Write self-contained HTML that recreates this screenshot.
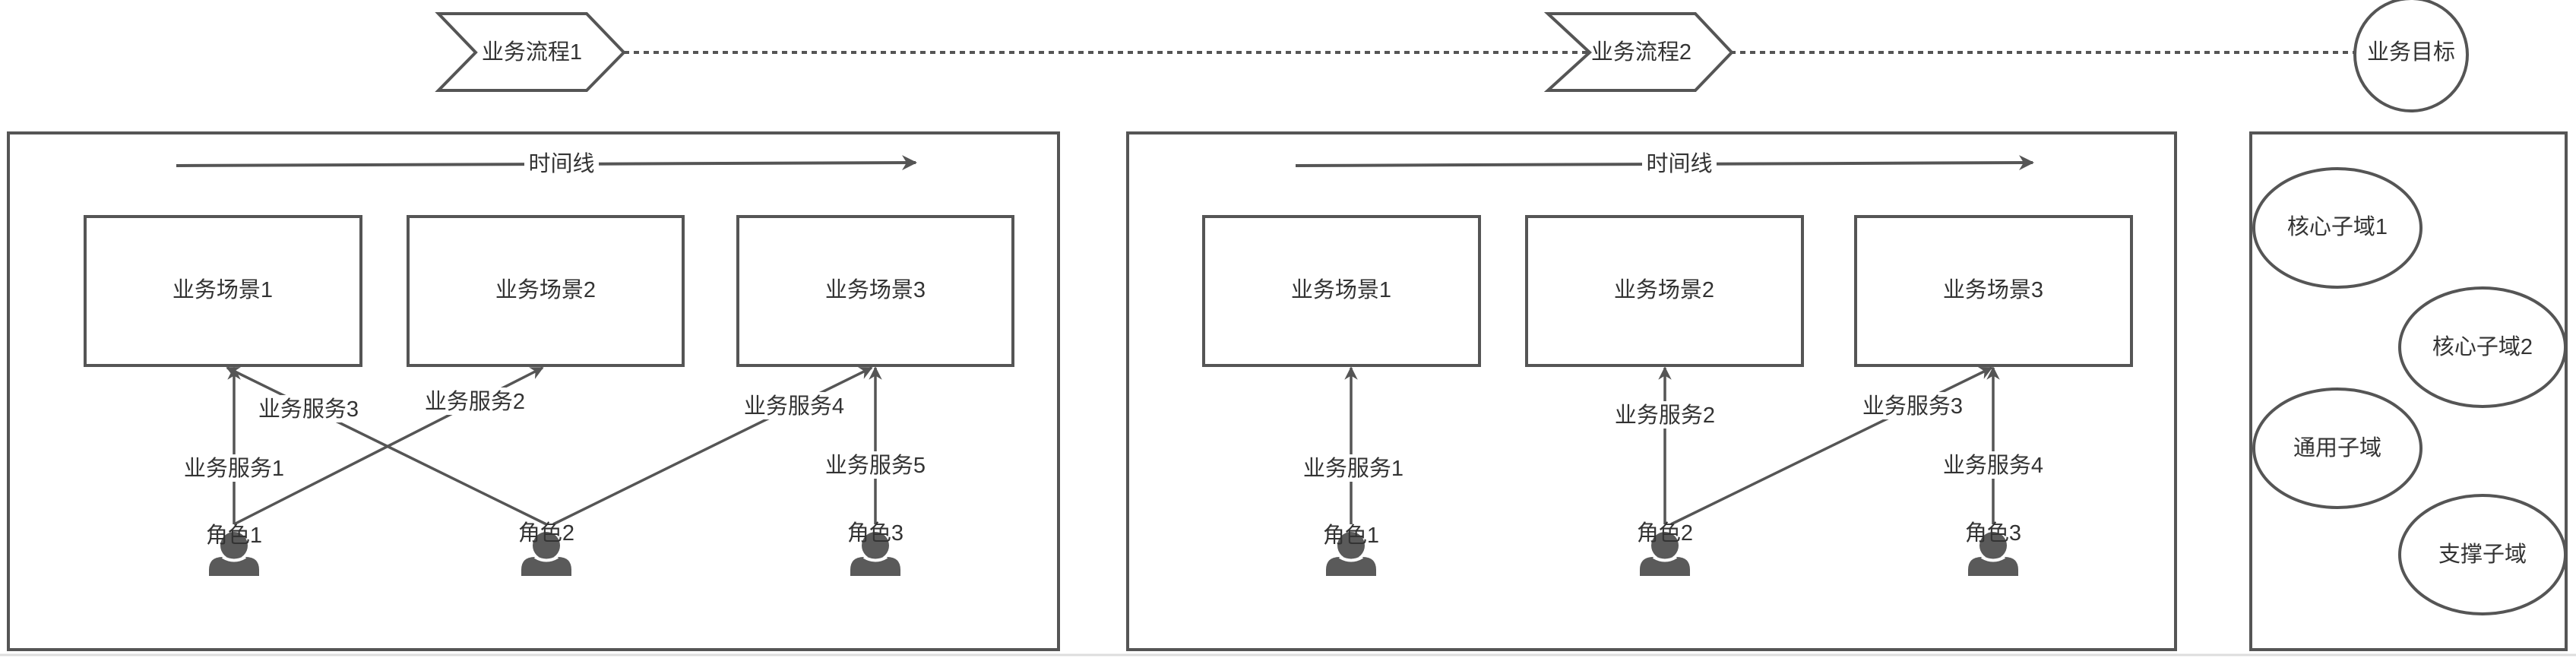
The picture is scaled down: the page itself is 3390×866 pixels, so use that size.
<!DOCTYPE html>
<html><head><meta charset="utf-8"><style>
html,body{margin:0;padding:0;background:#fff}
svg{display:block}
text{font-family:"Liberation Sans","Noto Sans CJK SC",sans-serif;font-size:29px;fill:#333;text-anchor:middle;dominant-baseline:central}
</style></head><body>
<svg width="3390" height="866" viewBox="0 0 3390 866" xmlns="http://www.w3.org/2000/svg">
<defs>
<marker id="a" viewBox="0 0 10 10" refX="9" refY="5" markerWidth="5" markerHeight="5" orient="auto"><path d="M0,0 L10,5 L0,10 L3,5 z" fill="#555"/></marker>
<g id="p"><circle cx="0" cy="0" r="18" fill="#5a5a5a"/><path d="M-33,40 L-33,32 Q-33,15 -15,15 L15,15 Q33,15 33,32 L33,40 Z" fill="#5a5a5a"/><path d="M-15,15 Q0,24 15,15" stroke="#fff" stroke-width="4" fill="none"/></g>
</defs>
<g stroke="#555" fill="none">
<line x1="821" y1="69" x2="3098" y2="69" stroke-width="4" stroke-dasharray="7,6"/>
<path d="M577,18 L772,18 L821,69 L772,119 L577,119 L626,69 Z" fill="#fff" stroke-width="4"/>
<path d="M2037,18 L2231,18 L2279,69 L2231,119 L2037,119 L2092,69 Z" fill="#fff" stroke-width="4"/>
<ellipse cx="3173" cy="72" rx="74" ry="74" fill="#fff" stroke-width="4"/>
<rect x="11" y="175" width="1382" height="680" stroke-width="4"/>
<rect x="1484" y="175" width="1379" height="680" stroke-width="4"/>
<rect x="2962" y="175" width="415" height="680" stroke-width="4"/>
<line x1="232" y1="218" x2="1205" y2="214" stroke-width="4" marker-end="url(#a)"/>
<line x1="1705" y1="218" x2="2675" y2="214" stroke-width="4" marker-end="url(#a)"/>
<rect x="112" y="285" width="363" height="196" stroke-width="4"/>
<rect x="537" y="285" width="362" height="196" stroke-width="4"/>
<rect x="971" y="285" width="362" height="196" stroke-width="4"/>
<rect x="1584" y="285" width="363" height="196" stroke-width="4"/>
<rect x="2009" y="285" width="363" height="196" stroke-width="4"/>
<rect x="2442" y="285" width="363" height="196" stroke-width="4"/>
<line x1="308" y1="690" x2="308" y2="484" stroke-width="3.5" marker-end="url(#a)"/>
<line x1="719" y1="690" x2="299" y2="484" stroke-width="3.5" marker-end="url(#a)"/>
<line x1="308" y1="690" x2="714" y2="484" stroke-width="3.5" marker-end="url(#a)"/>
<line x1="728" y1="690" x2="1147" y2="484" stroke-width="3.5" marker-end="url(#a)"/>
<line x1="1152" y1="690" x2="1152" y2="484" stroke-width="3.5" marker-end="url(#a)"/>
<line x1="1778" y1="690" x2="1778" y2="484" stroke-width="3.5" marker-end="url(#a)"/>
<line x1="2191" y1="690" x2="2191" y2="484" stroke-width="3.5" marker-end="url(#a)"/>
<line x1="2199" y1="690" x2="2621" y2="484" stroke-width="3.5" marker-end="url(#a)"/>
<line x1="2623" y1="690" x2="2623" y2="484" stroke-width="3.5" marker-end="url(#a)"/>
<ellipse cx="3076" cy="300" rx="110" ry="78" stroke-width="4"/>
<ellipse cx="3267" cy="457" rx="109" ry="78" stroke-width="4"/>
<ellipse cx="3076" cy="590" rx="110" ry="78" stroke-width="4"/>
<ellipse cx="3267" cy="730" rx="109" ry="78" stroke-width="4"/>
</g>
<line x1="0" y1="862" x2="3390" y2="862" stroke="#ddd" stroke-width="3"/>
<use href="#p" x="308" y="718"/><use href="#p" x="719" y="718"/><use href="#p" x="1152" y="718"/>
<use href="#p" x="1778" y="718"/><use href="#p" x="2191" y="718"/><use href="#p" x="2623" y="718"/>
<g fill="#fff">
<rect x="690" y="198" width="98" height="36"/><rect x="2161" y="198" width="98" height="36"/>
<rect x="336" y="520" width="140" height="36"/><rect x="554" y="510" width="142" height="36"/><rect x="974" y="516" width="142" height="36"/>
<rect x="237" y="598" width="142" height="36"/><rect x="1081" y="594" width="142" height="36"/>
<rect x="1710" y="598" width="142" height="36"/><rect x="2120" y="528" width="142" height="36"/><rect x="2446" y="516" width="142" height="36"/><rect x="2552" y="594" width="142" height="36"/>
</g>
<text x="700" y="69">业务流程1</text>
<text x="2160" y="69">业务流程2</text>
<text x="3173" y="69">业务目标</text>
<text x="739" y="216">时间线</text>
<text x="2210" y="216">时间线</text>
<text x="293" y="382">业务场景1</text>
<text x="718" y="382">业务场景2</text>
<text x="1152" y="382">业务场景3</text>
<text x="1765" y="382">业务场景1</text>
<text x="2190" y="382">业务场景2</text>
<text x="2623" y="382">业务场景3</text>
<text x="406" y="539">业务服务3</text>
<text x="625" y="529">业务服务2</text>
<text x="1045" y="535">业务服务4</text>
<text x="308" y="617">业务服务1</text>
<text x="1152" y="613">业务服务5</text>
<text x="1781" y="617">业务服务1</text>
<text x="2191" y="547">业务服务2</text>
<text x="2517" y="535">业务服务3</text>
<text x="2623" y="613">业务服务4</text>
<text x="308" y="705">角色1</text>
<text x="719" y="702">角色2</text>
<text x="1152" y="702">角色3</text>
<text x="1778" y="705">角色1</text>
<text x="2191" y="702">角色2</text>
<text x="2623" y="702">角色3</text>
<text x="3076" y="299">核心子域1</text>
<text x="3267" y="457">核心子域2</text>
<text x="3076" y="590">通用子域</text>
<text x="3267" y="730">支撑子域</text>
</svg>
</body></html>
